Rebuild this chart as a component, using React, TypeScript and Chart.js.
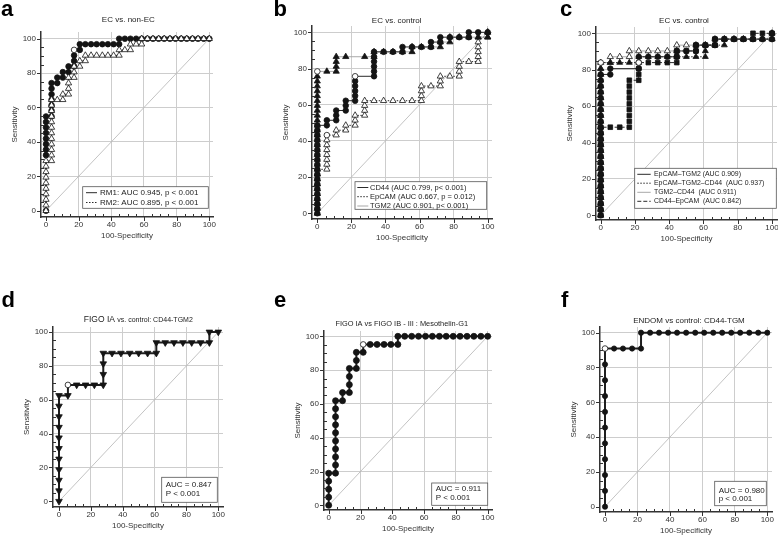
import React, { useEffect, useRef } from "react";
import { Chart, registerables } from "chart.js";
Chart.register(...registerables);

const FONT = '"Liberation Sans", Arial, Helvetica, sans-serif';
const AXIS_TICKS = [0, 20, 40, 60, 80, 100];
const MINOR_STEP = 5;
const DIAG_X = [0, 100];
const DIAG_Y = [0, 100];

// ---------------- Panel a : EC vs. non-EC ----------------
const aRM1X = [0, 0, 0, 0, 0, 0, 0, 0, 0, 3.4, 3.4, 3.4, 3.4, 3.4, 3.4, 3.4, 6.9, 6.9, 10.3, 10.3, 13.8, 13.8, 17.2, 17.2, 17.2, 17.2, 20.7, 20.7, 24.1, 27.6, 31.0, 34.5, 37.9, 41.4, 44.8, 44.8, 48.3, 51.7, 55.2, 58.6, 62.1, 65.5, 69.0, 72.4, 75.9, 79.3, 82.8, 86.2, 89.7, 93.1, 96.6, 100];
const aRM1Y = [0, 32.3, 35.5, 38.7, 41.9, 45.2, 48.4, 51.6, 54.8, 54.8, 58.1, 61.3, 64.5, 67.7, 71.0, 74.2, 74.2, 77.4, 77.4, 80.6, 80.6, 83.9, 83.9, 87.1, 90.3, 93.5, 93.5, 96.8, 96.8, 96.8, 96.8, 96.8, 96.8, 96.8, 96.8, 100, 100, 100, 100, 100, 100, 100, 100, 100, 100, 100, 100, 100, 100, 100, 100, 100];
const aRM1Crit = [17.2, 93.5];
const aRM2X = [0, 0, 0, 0, 0, 0, 0, 0, 0, 0, 3.4, 3.4, 3.4, 3.4, 3.4, 3.4, 3.4, 3.4, 3.4, 3.4, 3.4, 3.4, 6.9, 10.3, 10.3, 13.8, 13.8, 13.8, 13.8, 17.2, 17.2, 17.2, 20.7, 20.7, 24.1, 24.1, 27.6, 31.0, 34.5, 37.9, 41.4, 44.8, 44.8, 48.3, 51.7, 51.7, 55.2, 58.6, 58.6, 62.1, 65.5, 69.0, 72.4, 75.9, 79.3, 82.8, 86.2, 89.7, 93.1, 96.6, 100];
const aRM2Y = [0, 3.2, 6.5, 9.7, 12.9, 16.1, 19.4, 22.6, 25.8, 29.0, 29.0, 32.3, 35.5, 38.7, 41.9, 45.2, 48.4, 51.6, 54.8, 58.1, 61.3, 64.5, 64.5, 64.5, 67.7, 67.7, 71.0, 74.2, 77.4, 77.4, 80.6, 83.9, 83.9, 87.1, 87.1, 90.3, 90.3, 90.3, 90.3, 90.3, 90.3, 90.3, 93.5, 93.5, 93.5, 96.8, 96.8, 96.8, 100, 100, 100, 100, 100, 100, 100, 100, 100, 100, 100, 100, 100];

// ---------------- Panel b : EC vs. control ----------------
const bCD44X = [0, 0, 0, 0, 0, 0, 0, 0, 0, 0, 0, 0, 0, 0, 0, 0, 0, 0, 0, 5.6, 5.6, 11.1, 11.1, 11.1, 16.7, 16.7, 16.7, 22.2, 22.2, 22.2, 22.2, 22.2, 22.2, 33.3, 33.3, 33.3, 33.3, 33.3, 33.3, 38.9, 44.4, 50, 50, 55.6, 61.1, 66.7, 66.7, 72.2, 72.2, 77.8, 83.3, 88.9, 88.9, 94.4, 100];
const bCD44Y = [0, 2.7, 5.4, 8.1, 10.8, 13.5, 16.2, 18.9, 21.6, 24.3, 27.0, 29.7, 32.4, 35.1, 37.8, 40.5, 43.2, 45.9, 48.6, 48.6, 51.4, 51.4, 54.1, 56.8, 56.8, 59.5, 62.2, 62.2, 64.9, 67.6, 70.3, 73.0, 75.7, 75.7, 78.4, 81.1, 83.8, 86.5, 89.2, 89.2, 89.2, 89.2, 91.9, 91.9, 91.9, 91.9, 94.6, 94.6, 97.3, 97.3, 97.3, 97.3, 100, 100, 100];
const bCD44Crit = [22.2, 75.7];
const bEpX = [0, 0, 0, 0, 0, 0, 0, 0, 0, 0, 5.6, 5.6, 5.6, 5.6, 5.6, 5.6, 5.6, 5.6, 11.1, 11.1, 16.7, 16.7, 22.2, 22.2, 22.2, 27.8, 27.8, 27.8, 27.8, 33.3, 38.9, 44.4, 50, 55.6, 61.1, 61.1, 61.1, 61.1, 66.7, 72.2, 72.2, 72.2, 77.8, 83.3, 83.3, 83.3, 83.3, 88.9, 94.4, 94.4, 94.4, 94.4, 94.4, 94.4, 100, 100];
const bEpY = [0, 2.7, 5.4, 8.1, 10.8, 13.5, 16.2, 18.9, 21.6, 24.3, 24.3, 27.0, 29.7, 32.4, 35.1, 37.8, 40.5, 43.2, 43.2, 45.9, 45.9, 48.6, 48.6, 51.4, 54.1, 54.1, 56.8, 59.5, 62.2, 62.2, 62.2, 62.2, 62.2, 62.2, 62.2, 64.9, 67.6, 70.3, 70.3, 70.3, 73.0, 75.7, 75.7, 75.7, 78.4, 81.1, 83.8, 83.8, 83.8, 86.5, 89.2, 91.9, 94.6, 97.3, 97.3, 100];
const bEpCrit = [5.6, 43.2];
const bTGM2X = [0, 0, 0, 0, 0, 0, 0, 0, 0, 0, 0, 0, 0, 0, 0, 0, 0, 0, 0, 0, 0, 0, 0, 0, 0, 0, 0, 0, 0, 0, 5.6, 11.1, 11.1, 11.1, 11.1, 16.7, 27.8, 33.3, 33.3, 38.9, 44.4, 50, 55.6, 55.6, 61.1, 66.7, 72.2, 72.2, 77.8, 77.8, 83.3, 88.9, 94.4, 100, 100];
const bTGM2Y = [0, 2.7, 5.4, 8.1, 10.8, 13.5, 16.2, 18.9, 21.6, 24.3, 27.0, 29.7, 32.4, 35.1, 37.8, 40.5, 43.2, 45.9, 48.6, 51.4, 54.1, 56.8, 59.5, 62.2, 64.9, 67.6, 70.3, 73.0, 75.7, 78.4, 78.4, 78.4, 81.1, 83.8, 86.5, 86.5, 86.5, 86.5, 89.2, 89.2, 89.2, 89.2, 89.2, 91.9, 91.9, 91.9, 91.9, 94.6, 94.6, 97.3, 97.3, 97.3, 97.3, 97.3, 100];
const bTGM2Crit = [0, 78.4];

// ---------------- Panel c : EC vs. control (combinations) ----------------
const cEtX = [0, 0, 0, 0, 0, 0, 0, 0, 0, 0, 0, 0, 0, 0, 0, 0, 0, 0, 0, 0, 0, 0, 0, 0, 0, 5.6, 5.6, 22.2, 22.2, 22.2, 27.8, 33.3, 38.9, 44.4, 44.4, 50, 55.6, 55.6, 61.1, 66.7, 66.7, 72.2, 77.8, 83.3, 88.9, 94.4, 100, 100];
const cEtY = [0, 3.2, 6.5, 9.7, 12.9, 16.1, 19.4, 22.6, 25.8, 29.0, 32.3, 35.5, 38.7, 41.9, 45.2, 48.4, 51.6, 54.8, 58.1, 61.3, 64.5, 67.7, 71.0, 74.2, 77.4, 77.4, 80.6, 80.6, 83.9, 87.1, 87.1, 87.1, 87.1, 87.1, 90.3, 90.3, 90.3, 93.5, 93.5, 93.5, 96.8, 96.8, 96.8, 96.8, 96.8, 96.8, 96.8, 100];
const cEtcX = [0, 0, 0, 0, 0, 0, 0, 0, 0, 0, 0, 0, 0, 0, 0, 0, 0, 0, 0, 0, 0, 0, 0, 0, 0, 0, 0, 5.6, 11.1, 16.7, 22.2, 22.2, 27.8, 33.3, 38.9, 44.4, 50, 55.6, 61.1, 61.1, 61.1, 66.7, 72.2, 72.2, 77.8, 83.3, 88.9, 94.4, 100, 100];
const cEtcY = [0, 3.2, 6.5, 9.7, 12.9, 16.1, 19.4, 22.6, 25.8, 29.0, 32.3, 35.5, 38.7, 41.9, 45.2, 48.4, 51.6, 54.8, 58.1, 61.3, 64.5, 67.7, 71.0, 74.2, 77.4, 80.6, 83.9, 83.9, 83.9, 83.9, 83.9, 87.1, 87.1, 87.1, 87.1, 87.1, 87.1, 87.1, 87.1, 90.3, 93.5, 93.5, 93.5, 96.8, 96.8, 96.8, 96.8, 96.8, 96.8, 100];
const cEtcCrit = [0, 83.9];
const cTcX = [0, 0, 0, 0, 0, 0, 0, 0, 0, 0, 0, 0, 0, 0, 0, 0, 0, 0, 0, 0, 0, 0, 0, 0, 0, 0, 0, 5.6, 5.6, 11.1, 16.7, 16.7, 22.2, 27.8, 33.3, 38.9, 44.4, 44.4, 50, 55.6, 61.1, 66.7, 66.7, 72.2, 77.8, 83.3, 88.9, 94.4, 100, 100];
const cTcY = [0, 3.2, 6.5, 9.7, 12.9, 16.1, 19.4, 22.6, 25.8, 29.0, 32.3, 35.5, 38.7, 41.9, 45.2, 48.4, 51.6, 54.8, 58.1, 61.3, 64.5, 67.7, 71.0, 74.2, 77.4, 80.6, 83.9, 83.9, 87.1, 87.1, 87.1, 90.3, 90.3, 90.3, 90.3, 90.3, 90.3, 93.5, 93.5, 93.5, 93.5, 93.5, 96.8, 96.8, 96.8, 96.8, 96.8, 96.8, 96.8, 100];
const cCeX = [0, 0, 0, 0, 0, 0, 0, 0, 0, 0, 0, 0, 0, 0, 0, 0, 5.6, 11.1, 16.7, 16.7, 16.7, 16.7, 16.7, 16.7, 16.7, 16.7, 16.7, 22.2, 22.2, 22.2, 22.2, 27.8, 33.3, 38.9, 44.4, 44.4, 44.4, 50, 55.6, 55.6, 61.1, 66.7, 66.7, 72.2, 77.8, 83.3, 88.9, 88.9, 94.4, 100];
const cCeY = [0, 3.2, 6.5, 9.7, 12.9, 16.1, 19.4, 22.6, 25.8, 29.0, 32.3, 35.5, 38.7, 41.9, 45.2, 48.4, 48.4, 48.4, 48.4, 51.6, 54.8, 58.1, 61.3, 64.5, 67.7, 71.0, 74.2, 74.2, 77.4, 80.6, 83.9, 83.9, 83.9, 83.9, 83.9, 87.1, 90.3, 90.3, 90.3, 93.5, 93.5, 93.5, 96.8, 96.8, 96.8, 96.8, 96.8, 100, 100, 100];
const cCeCrit = [22.2, 83.9];

// ---------------- Panel d : FIGO IA vs. control ----------------
const dX = [0, 0, 0, 0, 0, 0, 0, 0, 0, 0, 0, 5.6, 5.6, 11.1, 16.7, 22.2, 27.8, 27.8, 27.8, 27.8, 33.3, 38.9, 44.4, 50, 55.6, 61.1, 61.1, 66.7, 72.2, 77.8, 83.3, 88.9, 94.4, 94.4, 100];
const dY = [0, 6.25, 12.5, 18.75, 25, 31.25, 37.5, 43.75, 50, 56.25, 62.5, 62.5, 68.75, 68.75, 68.75, 68.75, 68.75, 75, 81.25, 87.5, 87.5, 87.5, 87.5, 87.5, 87.5, 87.5, 93.75, 93.75, 93.75, 93.75, 93.75, 93.75, 93.75, 100, 100];
const dCrit = [5.6, 68.75];

// ---------------- Panel e : FIGO IA vs FIGO IB - III ----------------
const eX = [0, 0, 0, 0, 0, 4.3, 4.3, 4.3, 4.3, 4.3, 4.3, 4.3, 4.3, 4.3, 4.3, 8.7, 8.7, 13.0, 13.0, 13.0, 13.0, 17.4, 17.4, 17.4, 21.7, 21.7, 26.1, 30.4, 34.8, 39.1, 43.5, 43.5, 47.8, 52.2, 56.5, 60.9, 65.2, 69.6, 73.9, 78.3, 82.6, 87.0, 91.3, 95.7, 100];
const eY = [0, 4.8, 9.5, 14.3, 19.0, 19.0, 23.8, 28.6, 33.3, 38.1, 42.9, 47.6, 52.4, 57.1, 61.9, 61.9, 66.7, 66.7, 71.4, 76.2, 81.0, 81.0, 85.7, 90.5, 90.5, 95.2, 95.2, 95.2, 95.2, 95.2, 95.2, 100, 100, 100, 100, 100, 100, 100, 100, 100, 100, 100, 100, 100, 100];
const eCrit = [21.7, 95.2];

// ---------------- Panel f : ENDOM vs control ----------------
const fX = [0, 0, 0, 0, 0, 0, 0, 0, 0, 0, 0, 5.6, 11.1, 16.7, 22.2, 22.2, 27.8, 33.3, 38.9, 44.4, 50, 55.6, 61.1, 66.7, 72.2, 77.8, 83.3, 88.9, 94.4, 100];
const fY = [0, 9.1, 18.2, 27.3, 36.4, 45.5, 54.5, 63.6, 72.7, 81.8, 90.9, 90.9, 90.9, 90.9, 90.9, 100, 100, 100, 100, 100, 100, 100, 100, 100, 100, 100, 100, 100, 100, 100];
const fCrit = [0, 90.9];

// ---------------- styling / layout ----------------
type SeriesDef = {
  xs: number[]; ys: number[]; crit?: number[];
  marker: string; open?: boolean; rot?: number; radius: number;
  color: string; width: number; dash: number[];
};
type LegendRow = { text: string; y: number; color?: string; dash?: number[] };
type PanelDef = {
  key: string;
  L: number; T: number; R: number; B: number;
  x0: number; x100: number; y0: number; y100: number;
  title: { text: string; size: number }[]; titleX: number; titleY: number;
  letterX: number; letterY: number;
  series: SeriesDef[];
  box: number[]; rows: LegendRow[]; lineX?: number[]; textX: number; legendSize: number;
};

const DARK = "#2a2a2a";
const GRAY = "#a8a8a8";
const DOT = [1.5, 1.5];
const DASH = [4, 2];

const PANELS: PanelDef[] = [
  {
    key: "a", L: 41, T: 32, R: 213, B: 217, x0: 46, x100: 209.3, y0: 210.7, y100: 38.7,
    title: [{ text: "EC vs. non-EC", size: 8 }], titleX: 128.3, titleY: 19.3,
    letterX: 1, letterY: -2,
    series: [
      { xs: aRM2X, ys: aRM2Y, marker: "triangle", open: true, radius: 3.6, color: DARK, width: 1, dash: DOT },
      { xs: aRM1X, ys: aRM1Y, crit: aRM1Crit, marker: "circle", radius: 2.8, color: DARK, width: 1, dash: [] },
    ],
    box: [82.7, 186.7, 208.3, 208.3], lineX: [86, 97], textX: 100, legendSize: 8,
    rows: [
      { text: "RM1: AUC 0.945, p < 0.001", y: 192.7, color: DARK, dash: [] },
      { text: "RM2: AUC 0.895, p < 0.001", y: 202.5, color: DARK, dash: DOT },
    ],
  },
  {
    key: "b", L: 312, T: 26, R: 492, B: 219, x0: 317.3, x100: 487.7, y0: 213.3, y100: 32.3,
    title: [{ text: "EC vs. control", size: 8 }], titleX: 396.7, titleY: 20.7,
    letterX: 273.5, letterY: -2.5,
    series: [
      { xs: bCD44X, ys: bCD44Y, crit: bCD44Crit, marker: "circle", radius: 2.8, color: DARK, width: 1, dash: [] },
      { xs: bTGM2X, ys: bTGM2Y, crit: bTGM2Crit, marker: "triangle", radius: 3.6, color: GRAY, width: 1, dash: [] },
      { xs: bEpX, ys: bEpY, crit: bEpCrit, marker: "triangle", open: true, radius: 3.6, color: DARK, width: 1, dash: DOT },
    ],
    box: [355, 181.7, 486.7, 209.3], lineX: [357.3, 368.3], textX: 370, legendSize: 7.5,
    rows: [
      { text: "CD44 (AUC 0.799, p< 0.001)", y: 187.5, color: DARK, dash: [] },
      { text: "EpCAM (AUC 0.667, p = 0.012)", y: 196.7, color: DARK, dash: DOT },
      { text: "TGM2 (AUC 0.901, p< 0.001)", y: 206, color: GRAY, dash: [] },
    ],
  },
  {
    key: "c", L: 596, T: 27, R: 777, B: 220, x0: 600.7, x100: 772, y0: 215.3, y100: 33.3,
    title: [{ text: "EC vs. control", size: 8 }], titleX: 684, titleY: 21,
    letterX: 560, letterY: -2,
    series: [
      { xs: cCeX, ys: cCeY, crit: cCeCrit, marker: "rect", radius: 3.3, color: DARK, width: 1, dash: DASH },
      { xs: cEtcX, ys: cEtcY, crit: cEtcCrit, marker: "triangle", radius: 3.4, color: DARK, width: 1, dash: DOT },
      { xs: cEtX, ys: cEtY, marker: "circle", radius: 2.8, color: DARK, width: 1, dash: [] },
      { xs: cTcX, ys: cTcY, marker: "triangle", open: true, radius: 3.6, color: GRAY, width: 1, dash: [] },
    ],
    box: [634.7, 168.3, 776.3, 208.3], lineX: [637.3, 650.7], textX: 654, legendSize: 6.9,
    rows: [
      { text: "EpCAM–TGM2 (AUC 0.909)", y: 174.3, color: DARK, dash: [] },
      { text: "EpCAM–TGM2–CD44  (AUC 0.937)", y: 183.2, color: DARK, dash: DOT },
      { text: "TGM2–CD44  (AUC 0.911)", y: 192.3, color: GRAY, dash: [] },
      { text: "CD44–EpCAM  (AUC 0.842)", y: 201.3, color: DARK, dash: DASH },
    ],
  },
  {
    key: "d", L: 53, T: 327, R: 223, B: 507, x0: 59, x100: 218.3, y0: 501.3, y100: 332,
    title: [{ text: "FIGO IA ", size: 8.5 }, { text: "vs. control: CD44-TGM2", size: 7 }], titleX: 138.3, titleY: 319.7,
    letterX: 1.5, letterY: 288.7,
    series: [
      { xs: dX, ys: dY, crit: dCrit, marker: "triangle", rot: 180, radius: 3.8, color: "#1e1e1e", width: 2, dash: [] },
    ],
    box: [161.7, 477.3, 217.3, 502.3], textX: 165.7, legendSize: 8,
    rows: [{ text: "AUC = 0.847", y: 484.7 }, { text: "P < 0.001", y: 494 }],
  },
  {
    key: "e", L: 324, T: 331, R: 492, B: 510, x0: 328.7, x100: 487.7, y0: 505.3, y100: 336.3,
    title: [{ text: "FIGO IA vs FIGO IB - III : Mesothelin-G1", size: 7.4 }], titleX: 401.7, titleY: 324,
    letterX: 274, letterY: 288.7,
    series: [
      { xs: eX, ys: eY, crit: eCrit, marker: "circle", radius: 3, color: "#1e1e1e", width: 2, dash: [] },
    ],
    box: [431.7, 483, 487.7, 505.3], textX: 435.7, legendSize: 8,
    rows: [{ text: "AUC = 0.911", y: 489 }, { text: "P < 0.001", y: 497.5 }],
  },
  {
    key: "f", L: 600, T: 327, R: 772, B: 512, x0: 605, x100: 767.3, y0: 506.7, y100: 332.7,
    title: [{ text: "ENDOM vs control: CD44-TGM", size: 8 }], titleX: 689, titleY: 320.7,
    letterX: 561, letterY: 288.7,
    series: [
      { xs: fX, ys: fY, crit: fCrit, marker: "circle", radius: 2.6, color: "#1e1e1e", width: 2, dash: [] },
    ],
    box: [714.7, 481.3, 766.3, 505.7], textX: 718.7, legendSize: 8,
    rows: [{ text: "AUC = 0.980", y: 490.7 }, { text: "p < 0.001", y: 498.8 }],
  },
];

const PAD_L = 40;
const PAD_T = 24;
const PAD_R = 10;
const PAD_B = 27;

function isCrit(s: SeriesDef, raw: any) {
  return !!s.crit && raw && raw.x === s.crit[0] && raw.y === s.crit[1];
}

function Panel({ p }: { p: PanelDef }) {
  const ref = useRef<HTMLCanvasElement | null>(null);
  const cx = p.L - PAD_L;
  const cy = p.T - PAD_T;
  const cw = p.R + PAD_R - cx;
  const ch = p.B + PAD_B - cy;

  useEffect(() => {
    if (!ref.current) return;
    const sx = (p.x100 - p.x0) / 100;
    const sy = (p.y0 - p.y100) / 100;
    const xMin = -(p.x0 - p.L) / sx;
    const xMax = 100 + (p.R - p.x100) / sx;
    const yMin = -(p.B - p.y0) / sy;
    const yMax = 100 + (p.y100 - p.T) / sy;

    const datasets: any[] = p.series.map((s) => ({
      data: s.xs.map((x, i) => ({ x, y: s.ys[i] })),
      showLine: true,
      borderColor: s.color,
      borderWidth: s.width,
      borderDash: s.dash,
      tension: 0,
      fill: false,
      pointStyle: (c: any) => (isCrit(s, c.raw) ? "circle" : s.marker),
      pointRadius: (c: any) => (isCrit(s, c.raw) ? 2.8 : s.radius),
      pointRotation: (c: any) => (isCrit(s, c.raw) ? 0 : s.rot || 0),
      pointBackgroundColor: (c: any) => (isCrit(s, c.raw) || s.open ? "#ffffff" : "#141414"),
      pointBorderColor: "#141414",
      pointBorderWidth: 0.8,
      pointHoverRadius: s.radius,
    }));
    datasets.push({
      data: DIAG_X.map((x, i) => ({ x, y: DIAG_Y[i] })),
      showLine: true,
      borderColor: "#b4b4b4",
      borderWidth: 0.8,
      pointRadius: 0,
      fill: false,
    });

    const tickFont = { family: FONT, size: 8 };
    const gridColor = (c: any) => (c.tick && c.tick.value === 0 ? "rgba(0,0,0,0)" : "#cdcdcd");

    const decor = {
      id: "decor" + p.key,
      afterDraw(chart: any) {
        const ctx = chart.ctx as CanvasRenderingContext2D;
        const xs = chart.scales.x;
        const ys = chart.scales.y;
        const ca = chart.chartArea;
        ctx.save();
        ctx.strokeStyle = "#333";
        ctx.lineWidth = 1;
        for (let v = 0; v <= 100; v += MINOR_STEP) {
          const major = v % 20 === 0;
          const px = Math.round(xs.getPixelForValue(v)) + 0.5;
          const py = Math.round(ys.getPixelForValue(v)) + 0.5;
          ctx.beginPath();
          if (major) {
            ctx.moveTo(px, ca.bottom);
            ctx.lineTo(px, ca.bottom + 4);
            ctx.moveTo(ca.left, py);
            ctx.lineTo(ca.left - 4, py);
          } else {
            ctx.moveTo(px, ca.bottom);
            ctx.lineTo(px, ca.bottom - 3);
            ctx.moveTo(ca.left, py);
            ctx.lineTo(ca.left + 3, py);
          }
          ctx.stroke();
        }
        // title
        ctx.fillStyle = "#222";
        ctx.textBaseline = "middle";
        let total = 0;
        const widths = p.title.map((seg) => {
          ctx.font = `${seg.size}px ${FONT}`;
          const w = ctx.measureText(seg.text).width;
          total += w;
          return w;
        });
        let tx = p.titleX - cx - total / 2;
        p.title.forEach((seg, i) => {
          ctx.font = `${seg.size}px ${FONT}`;
          ctx.textAlign = "left";
          ctx.fillText(seg.text, tx, p.titleY - cy);
          tx += widths[i];
        });
        // legend box
        const [bx1, by1, bx2, by2] = p.box;
        ctx.fillStyle = "#ffffff";
        ctx.fillRect(bx1 - cx, by1 - cy, bx2 - bx1, by2 - by1);
        ctx.strokeStyle = "#555";
        ctx.lineWidth = 0.8;
        ctx.strokeRect(bx1 - cx, by1 - cy, bx2 - bx1, by2 - by1);
        ctx.font = `${p.legendSize}px ${FONT}`;
        ctx.textAlign = "left";
        ctx.textBaseline = "middle";
        p.rows.forEach((r) => {
          if (p.lineX && r.color) {
            ctx.strokeStyle = r.color;
            ctx.lineWidth = 1;
            ctx.setLineDash(r.dash || []);
            ctx.beginPath();
            ctx.moveTo(p.lineX[0] - cx, r.y - cy);
            ctx.lineTo(p.lineX[1] - cx, r.y - cy);
            ctx.stroke();
            ctx.setLineDash([]);
          }
          ctx.fillStyle = "#222";
          ctx.fillText(r.text, p.textX - cx, r.y - cy);
        });
        ctx.restore();
      },
    };

    const chart = new Chart(ref.current, {
      type: "scatter",
      data: { datasets },
      plugins: [decor],
      options: {
        animation: false,
        responsive: false,
        devicePixelRatio: 1,
        events: [],
        layout: { padding: { left: 0, top: PAD_T, right: PAD_R, bottom: 0 } },
        plugins: { legend: { display: false }, tooltip: { enabled: false }, title: { display: false } },
        scales: {
          x: {
            type: "linear",
            min: xMin,
            max: xMax,
            afterBuildTicks: (s: any) => { s.ticks = AXIS_TICKS.map((v) => ({ value: v })); },
            afterFit: (s: any) => { s.height = PAD_B; },
            grid: { color: gridColor, lineWidth: 1, drawTicks: false },
            border: { color: "#333", width: 1.5 },
            ticks: { font: tickFont, color: "#333", padding: 3, maxRotation: 0, autoSkip: false },
            title: { display: true, text: "100-Specificity", font: tickFont, color: "#333", padding: { top: 0, bottom: 3 } },
          },
          y: {
            type: "linear",
            min: yMin,
            max: yMax,
            afterBuildTicks: (s: any) => { s.ticks = AXIS_TICKS.map((v) => ({ value: v })); },
            afterFit: (s: any) => { s.width = PAD_L; },
            grid: { color: gridColor, lineWidth: 1, drawTicks: false },
            border: { color: "#333", width: 1.5 },
            ticks: { font: tickFont, color: "#333", padding: 5, autoSkip: false },
            title: { display: true, text: "Sensitivity", font: tickFont, color: "#333", padding: { top: 9, bottom: 0 } },
          },
        },
      } as any,
    });
    return () => chart.destroy();
  }, []);

  return (
    <canvas
      ref={ref}
      width={cw}
      height={ch}
      style={{ position: "absolute", left: cx, top: cy, width: cw, height: ch }}
    />
  );
}

export default function App() {
  return (
    <div style={{ position: "absolute", left: 0, top: 0, width: 778, height: 535, overflow: "hidden", background: "#fff" }}>
      {PANELS.map((p) => (
        <Panel key={p.key} p={p} />
      ))}
      {PANELS.map((p) => (
        <div
          key={"l" + p.key}
          style={{
            position: "absolute", left: p.letterX, top: p.letterY, fontFamily: FONT,
            fontWeight: "bold", fontSize: 22, lineHeight: "22px", color: "#000",
          }}
        >
          {p.key}
        </div>
      ))}
    </div>
  );
}
